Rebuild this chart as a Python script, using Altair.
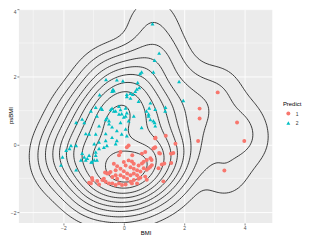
import numpy as np
import pandas as pd
import altair as alt

alt.data_transformers.disable_max_rows()

# ---- data ----
# Predict = 2 (cyan triangles)
bmi_2 = [0.95, 1.17, 1.02, 0.98, 0.59, 0.54, 0.46, 0.51, -0.59, -0.23, -0.03, -0.36, -0.33, -0.80,
         0.10, 0.22, 0.30, 0.43, 0.38, 1.83, 1.97, 1.38, 1.37, 0.88, 1.02, 0.88, 0.10, 0.22, 0.49,
         -0.76, -0.72, -0.93, -0.39, -0.33, -0.16, 0.06, 0.10, -0.16, 0.06, 0.33, 0.75, 0.82, 1.04,
         -0.89, -1.09, -1.38, -1.31, -0.56, -0.49, -1.58, -0.49, -0.60, -0.82, -0.93, -1.15, -0.23,
         0.06, 0.10, 0.59, 0.98, 1.04, -0.82, -0.98, -0.27, -0.60, -0.56, -1.75, -1.80, -1.91, -1.58,
         -2.03, -2.08, -1.38, -1.31, -1.21, -1.15, -1.42, -1.26, -1.05, -0.93, -0.89, -1.58, -0.39,
         -0.07, -0.39, -0.23, -0.82, -0.93, -0.66, -1.26, -1.08, -0.98, -0.07, 0.00, 0.16, -0.11,
         -0.60, -0.27, -0.11, -0.44, -0.39, 0.84, 0.82]
psbmi_2 = [3.57, 2.70, 2.49, 2.14, 2.14, 2.10, 1.83, 1.68, 1.92, 1.91, 1.88, 1.63, 1.59, 1.47,
           1.48, 1.51, 1.48, 1.64, 1.57, 1.86, 1.30, 1.10, 0.99, 1.23, 0.65, 0.74, 1.42, 1.37, 1.28,
           1.08, 1.04, 1.10, 1.07, 0.99, 1.13, 1.08, 0.94, 0.90, 0.84, 0.84, 0.99, 0.84, 1.04,
           0.84, 0.99, 0.75, 0.65, 0.79, 0.70, 0.65, 0.61, 0.32, 0.55, 0.31, 0.31, 0.41,
           0.46, 0.26, 0.50, 0.70, 0.55, 0.07, 0.02, 0.02, 0.12, -0.03, -0.03, -0.12, -0.17, -0.03,
           -0.37, -0.61, -0.26, -0.37, -0.41, -0.32, -0.46, -0.46, -0.51, -0.32, -0.46, -0.75, 0.52,
           0.31, 0.21, 0.12, -0.12, -0.22, -0.08, 0.32, -0.52, -0.46, 0.91, 0.81, 0.70, 0.65,
           0.74, 0.99, 1.03, 1.03, 1.57, 1.08, 0.90]

# Predict = 1 (red circles)
bmi_1 = [3.11, 2.51, 2.51, 3.75, 3.99, 2.46, 3.33, 1.39, 1.04, 1.71, 1.31, 0.98, 0.71, 0.60, 1.20,
         1.58, 0.88, 0.76, 0.66, 0.93, 0.88, 0.82, 0.76, 0.60, 0.66, 0.55, 1.26, 1.34, 1.15, 0.71,
         0.76, 0.55, 0.16, -0.11, -0.16, 0.28, 1.57, -0.33, -0.22, -0.27, 0.00, 0.06, 0.16, 0.27,
         0.33, 0.22, 0.33, 0.44, 0.49, -0.11, 0.00, 0.11, -0.55, -0.44, -0.38, -0.27, -0.22, -0.11,
         0.00, 0.11, 0.22, 0.33, 0.44, 0.49, 0.33, 0.22, -0.71, -0.66, -0.60, -0.49, -0.88, -0.82,
         -1.04, -1.09, -0.38, -0.27, -0.16, -0.06, 0.06, 0.27, 0.44, -1.15, -1.05, -0.49, 0.10,
         0.92, 1.04, -0.62, 1.02, 1.17, 1.56, 1.64, 1.05]
psbmi_1 = [1.54, 1.06, 0.77, 0.65, 0.10, 0.10, -0.77, 0.26, 0.18, 0.02, -1.09, -0.12, -0.22, -0.27,
           -0.27, -0.27, -0.41, -0.46, -0.51, -0.61, -0.66, -0.70, -0.75, -0.56, -0.70, -0.80, -0.59,
           -0.56, -0.70, -0.95, -1.04, -0.98, -0.03, -0.22, -0.32, -0.32, -0.55, -0.57, -0.64, -0.76,
           -0.52, -0.62, -0.47, -0.50, -0.57, -0.67, -0.72, -0.76, -0.62, -0.72, -0.79, -0.86, -0.86,
           -0.81, -0.96, -0.91, -1.01, -0.91, -0.96, -1.01, -0.91, -0.86, -0.91, -1.01, -1.05, -1.10,
           -1.05, -1.01, -1.10, -1.15, -1.08, -1.18, -1.05, -1.15, -1.15, -1.20, -1.15, -1.20, -1.18,
           -1.15, -1.15, -1.13, -0.99, -0.85, -0.08, -0.46, -0.08, -0.83, -0.10, -0.25, -0.27, -0.25,
           0.20]

x_ticks = [-2, 0, 2, 4]
y_ticks = [-2, 0, 2, 4]
x_minor = [-3, -1, 1, 3]
y_minor = [-1, 1, 3]
X_DOMAIN = [-3.475, 4.918]
Y_DOMAIN = [-2.32, 4.0]
BW_ADJUST = 1.45  # density smoothing, as in stat_density_2d(adjust=...)
# contour breaks, as fractions of the peak density
BREAKS = [0.01, 0.03, 0.065, 0.12, 0.19, 0.28, 0.39, 0.52, 0.67, 0.83]

NG = 140
gx = np.linspace(X_DOMAIN[0] - 0.3, X_DOMAIN[1] + 0.3, NG)
gy = np.linspace(Y_DOMAIN[0] - 0.3, Y_DOMAIN[1] + 0.3, NG)

px = np.array(bmi_1 + bmi_2, dtype=float)
py = np.array(psbmi_1 + psbmi_2, dtype=float)
n = len(px)


def bw_nrd(v):
    q1, q3 = np.percentile(v, [25, 75])
    return 4 * 1.06 * min(np.std(v, ddof=1), (q3 - q1) / 1.34) * len(v) ** (-0.2)


hx, hy = BW_ADJUST * bw_nrd(px) / 4, BW_ADJUST * bw_nrd(py) / 4
kx = np.exp(-0.5 * ((gx[:, None] - px[None, :]) / hx) ** 2) / (hx * np.sqrt(2 * np.pi))
ky = np.exp(-0.5 * ((gy[:, None] - py[None, :]) / hy) ** 2) / (hy * np.sqrt(2 * np.pi))
z = ky @ kx.T / n  # z[j, i] at (gx[i], gy[j])

levels = [b * z.max() for b in BREAKS]


def contour_paths(lev):
    """Marching squares; crossing points keyed by grid edge, then chained into paths."""
    pos = {}
    adj = {}

    def edge_pt(key):
        if key not in pos:
            kind, i, j = key
            if kind == "h":
                a, b = z[j, i], z[j, i + 1]
                t = (lev - a) / (b - a)
                pos[key] = (gx[i] + t * (gx[i + 1] - gx[i]), gy[j])
            else:
                a, b = z[j, i], z[j + 1, i]
                t = (lev - a) / (b - a)
                pos[key] = (gx[i], gy[j] + t * (gy[j + 1] - gy[j]))
        return key

    def link(a, b):
        adj.setdefault(a, []).append(b)
        adj.setdefault(b, []).append(a)

    above = z > lev
    for j in range(NG - 1):
        for i in range(NG - 1):
            c = [above[j, i], above[j, i + 1], above[j + 1, i + 1], above[j + 1, i]]
            if all(c) or not any(c):
                continue
            e = []
            if c[0] != c[1]:
                e.append(edge_pt(("h", i, j)))
            if c[1] != c[2]:
                e.append(edge_pt(("v", i + 1, j)))
            if c[3] != c[2]:
                e.append(edge_pt(("h", i, j + 1)))
            if c[0] != c[3]:
                e.append(edge_pt(("v", i, j)))
            if len(e) == 2:
                link(e[0], e[1])
            elif len(e) == 4:
                link(e[0], e[3])
                link(e[1], e[2])
    seen = set()
    paths = []
    for start in adj:
        if start in seen:
            continue
        cur, prev = start, None
        while True:
            nxt = [k for k in adj[cur] if k != prev]
            if len(adj[cur]) < 2 or not nxt or nxt[0] == start:
                break
            prev, cur = cur, nxt[0]
            if cur == start:
                break
        first = cur
        path = [first]
        seen.add(first)
        prev = None
        cur = first
        while True:
            nxt = [k for k in adj[cur] if k != prev and k not in seen]
            if not nxt:
                if len(path) > 2 and first in adj[cur]:
                    path.append(first)
                break
            prev, cur = cur, nxt[0]
            path.append(cur)
            seen.add(cur)
        paths.append([pos[k] for k in path])
    return paths


rows = []
pid = 0
for lev in levels:
    for path in contour_paths(lev):
        for k, (xx, yy) in enumerate(path):
            rows.append((pid, k, xx, yy))
        pid += 1
line_df = pd.DataFrame(rows, columns=["piece", "order", "x", "y"])

pts_df = pd.DataFrame({
    "BMI": bmi_1 + bmi_2,
    "psBMI": psbmi_1 + psbmi_2,
    "Predict": ["1"] * len(bmi_1) + ["2"] * len(bmi_2),
})

xs = alt.Scale(domain=X_DOMAIN, nice=False, zero=False)
ys = alt.Scale(domain=Y_DOMAIN, nice=False, zero=False)

x_axis = alt.Axis(values=x_ticks, title="BMI", grid=True, gridColor="white", gridWidth=0.9,
                  domain=False, tickSize=2, tickWidth=0.6, tickColor="#333333",
                  labelFontSize=5, labelColor="#4D4D4D", labelPadding=0.5,
                  titleFontSize=6, titleFontWeight="normal", titleColor="black",
                  titleY=11.5, titleBaseline="alphabetic", labelFont="Liberation Sans",
                  titleFont="Liberation Sans")
y_axis = alt.Axis(values=y_ticks, title="psBMI", grid=True, gridColor="white", gridWidth=0.9,
                  domain=False, tickSize=2, tickWidth=0.6, tickColor="#333333",
                  labelFontSize=5, labelColor="#4D4D4D", labelPadding=1, labelFlush=True,
                  titleFontSize=6, titleFontWeight="normal", titleColor="black",
                  titleX=-8.5, titleY=107, titleAngle=270, titleAlign="center",
                  titleBaseline="middle", labelFont="Liberation Sans",
                  titleFont="Liberation Sans")

minor_x = alt.Chart(pd.DataFrame({"v": x_minor})).mark_rule(
    color="white", strokeWidth=0.45).encode(x=alt.X("v:Q", scale=xs, axis=x_axis))
minor_y = alt.Chart(pd.DataFrame({"v": y_minor})).mark_rule(
    color="white", strokeWidth=0.45).encode(y=alt.Y("v:Q", scale=ys, axis=y_axis))

contours = alt.Chart(line_df).mark_line(
    color="#1a1a1a", strokeWidth=0.85, clip=True).encode(
    x=alt.X("x:Q", scale=xs), y=alt.Y("y:Q", scale=ys),
    detail="piece:N", order="order:Q")

points = alt.Chart(pts_df).mark_point(filled=True, opacity=1, size=16, strokeWidth=0).encode(
    x=alt.X("BMI:Q", scale=xs),
    y=alt.Y("psBMI:Q", scale=ys),
    color=alt.Color("Predict:N", scale=alt.Scale(domain=["1", "2"], range=["#F8766D", "#00BFC4"]),
                    legend=alt.Legend(title="Predict")),
    shape=alt.Shape("Predict:N", scale=alt.Scale(domain=["1", "2"], range=["circle", "triangle-up"]),
                    legend=alt.Legend(title="Predict")),
)

chart = alt.layer(minor_x, minor_y, contours, points).properties(
    width=256, height=216,
    autosize=alt.AutoSizeParams(type="none"),
    padding={"left": 11, "top": 0, "right": 31, "bottom": 12},
).configure_view(fill="#EBEBEB", stroke=None).configure_legend(
    orient="none", legendX=266.7, legendY=93, padding=0,
    titleFontSize=6, titleFontWeight="normal", titleColor="black", titleFont="Liberation Sans",
    titlePadding=4, labelFontSize=5, labelColor="#333333", labelFont="Liberation Sans",
    symbolSize=16, symbolOffset=3, labelOffset=5, rowPadding=3.5, symbolStrokeWidth=0,
)

chart.save("out.html", embed_options={"renderer": "svg", "actions": False})
